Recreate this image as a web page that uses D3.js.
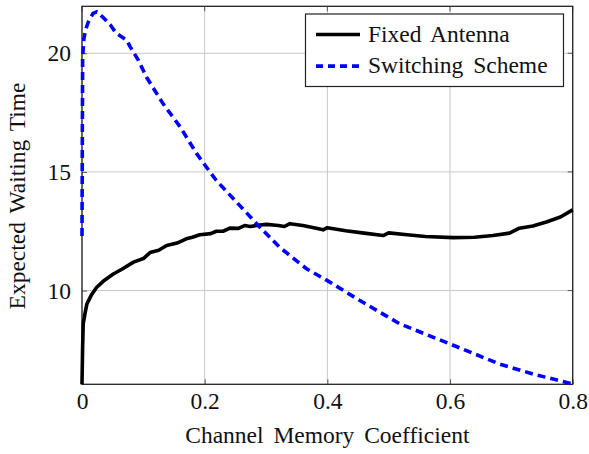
<!DOCTYPE html>
<html>
<head>
<meta charset="utf-8">
<script src="https://cdn.jsdelivr.net/npm/d3@7"></script>
<style>
  body { margin: 0; background: #fff; }
  svg text { font-family: 'Liberation Serif', 'Times New Roman', Times, serif !important; }
</style>
</head>
<body>
<div id="chart"></div>
<script>
const width = 589;
const height = 454;
const margin = { top: 6.3, right: 16.3, bottom: 69.7, left: 82 };
const serif = "'Liberation Serif', 'Times New Roman', Times, serif";
const fontSize = "23.5px";

// channel memory coefficient vs expected waiting time
const fixedX = [0, 0.001, 0.002, 0.005, 0.008, 0.015, 0.024, 0.035, 0.051, 0.065, 0.084, 0.1, 0.111, 0.125, 0.138, 0.155, 0.17, 0.18, 0.192, 0.21, 0.219, 0.23, 0.241, 0.255, 0.265, 0.274, 0.29, 0.301, 0.32, 0.33, 0.339, 0.36, 0.38, 0.393, 0.4, 0.43, 0.46, 0.491, 0.5, 0.53, 0.56, 0.605, 0.64, 0.67, 0.697, 0.713, 0.735, 0.757, 0.78, 0.8];
const fixedY = [6.05, 7.6, 8.6, 9.05, 9.44, 9.8, 10.14, 10.4, 10.7, 10.9, 11.2, 11.35, 11.6, 11.7, 11.9, 12.0, 12.18, 12.25, 12.35, 12.4, 12.5, 12.5, 12.63, 12.62, 12.74, 12.7, 12.76, 12.79, 12.74, 12.7, 12.82, 12.74, 12.64, 12.56, 12.65, 12.52, 12.42, 12.32, 12.43, 12.35, 12.28, 12.23, 12.25, 12.32, 12.42, 12.63, 12.72, 12.89, 13.1, 13.4];

const switchX = [0, 0.001, 0.003, 0.006, 0.01, 0.018, 0.024, 0.035, 0.046, 0.056, 0.073, 0.078, 0.092, 0.105, 0.132, 0.16, 0.187, 0.2, 0.219, 0.257, 0.29, 0.322, 0.366, 0.4, 0.453, 0.518, 0.6, 0.681, 0.736, 0.8];
const switchY = [12.3, 19.8, 20.6, 21.0, 21.3, 21.68, 21.75, 21.5, 21.2, 20.84, 20.55, 20.3, 19.7, 19.0, 17.88, 16.9, 15.77, 15.3, 14.64, 13.59, 12.67, 11.83, 10.92, 10.42, 9.58, 8.6, 7.75, 6.9, 6.48, 6.06];

const xTicks = [0, 0.2, 0.4, 0.6, 0.8];
const yTicks = [10, 15, 20];
const seriesNames = ["Fixed Antenna", "Switching Scheme"];

const svg = d3.select("#chart")
  .append("svg")
  .attr("width", width)
  .attr("height", height);

const x = d3.scaleLinear()
  .domain([0, 0.8])
  .range([margin.left, width - margin.right]);

const y = d3.scaleLinear()
  .domain([6.05, 21.98])
  .range([height - margin.bottom, margin.top]);

// grid
svg.append("g")
  .attr("stroke", "#c8c8c8")
  .attr("stroke-width", 1)
  .selectAll("line")
  .data(xTicks)
  .join("line")
    .attr("x1", d => x(d)).attr("x2", d => x(d))
    .attr("y1", margin.top).attr("y2", height - margin.bottom);

svg.append("g")
  .attr("stroke", "#c8c8c8")
  .attr("stroke-width", 1)
  .selectAll("line")
  .data(yTicks)
  .join("line")
    .attr("x1", margin.left).attr("x2", width - margin.right)
    .attr("y1", d => y(d)).attr("y2", d => y(d));

function xAxis(g) {
  g.attr("transform", `translate(0,${height - margin.bottom})`)
    .call(d3.axisBottom(x).tickValues(xTicks).tickSize(-5).tickPadding(8)
      .tickFormat(d => d === 0 ? "0" : d3.format(".1f")(d)))
    .attr("font-size", fontSize)
    .attr("font-family", serif);
  g.select(".domain").remove();
  g.selectAll(".tick line").attr("stroke", "#555");
  g.selectAll("text").attr("fill", "#111");
}

function yAxis(g) {
  g.attr("transform", `translate(${margin.left},0)`)
    .call(d3.axisLeft(y).tickValues(yTicks).tickSize(-5).tickPadding(11))
    .attr("font-size", fontSize)
    .attr("font-family", serif);
  g.select(".domain").remove();
  g.selectAll(".tick line").attr("stroke", "#555");
  g.selectAll("text").attr("fill", "#111");
}

svg.append("g").call(xAxis);
svg.append("g").call(yAxis);

// ticks on opposite sides
svg.append("g")
  .attr("stroke", "#555")
  .selectAll("line")
  .data(yTicks)
  .join("line")
    .attr("x1", width - margin.right - 5).attr("x2", width - margin.right)
    .attr("y1", d => y(d)).attr("y2", d => y(d));
svg.append("g")
  .attr("stroke", "#555")
  .selectAll("line")
  .data(xTicks)
  .join("line")
    .attr("x1", d => x(d)).attr("x2", d => x(d))
    .attr("y1", margin.top).attr("y2", margin.top + 5);

const line = d3.line()
  .x(d => x(d[0]))
  .y(d => y(d[1]));

const fixedData = fixedX.map((v, i) => [v, fixedY[i]]);
const switchData = switchX.map((v, i) => [v, switchY[i]]);

// frame (left edge grey like the reference)
svg.append("rect")
  .attr("x", margin.left)
  .attr("y", margin.top)
  .attr("width", width - margin.left - margin.right)
  .attr("height", height - margin.top - margin.bottom)
  .attr("fill", "none")
  .attr("stroke", "#222")
  .attr("stroke-width", 1.3);

const plot = svg.append("g");

plot.append("path")
  .datum(fixedData)
  .attr("fill", "none")
  .attr("stroke", "#000")
  .attr("stroke-width", 3.6)
  .attr("stroke-linejoin", "round")
  .attr("d", line);

plot.append("path")
  .datum(switchData)
  .attr("fill", "none")
  .attr("stroke", "#0000ff")
  .attr("stroke-width", 3.6)
  .attr("stroke-dasharray", "8,5")
  .attr("d", line);

// axis labels
svg.append("text")
  .attr("x", (margin.left + width - margin.right) / 2)
  .attr("y", 443.3)
  .attr("text-anchor", "middle")
  .attr("font-size", fontSize)
  .attr("word-spacing", "4px")
  .attr("fill", "#111")
  .text("Channel Memory Coefficient");

svg.append("text")
  .attr("transform", `translate(25,196) rotate(-90)`)
  .attr("text-anchor", "middle")
  .attr("font-size", fontSize)
  .attr("word-spacing", "3px")
  .attr("fill", "#111")
  .text("Expected Waiting Time");

// legend
const legend = svg.append("g");
legend.append("rect")
  .attr("x", 305.5).attr("y", 14)
  .attr("width", 258).attr("height", 72.5)
  .attr("fill", "#fff")
  .attr("stroke", "#222")
  .attr("stroke-width", 1.2);

const legendItems = legend.selectAll("g")
  .data(seriesNames)
  .join("g")
    .attr("transform", (d, i) => `translate(0,${34.5 + i * 31.6})`);

legendItems.append("line")
  .attr("x1", 316).attr("x2", 360)
  .attr("y1", 0).attr("y2", 0)
  .attr("stroke", (d, i) => i === 0 ? "#000" : "#0000ff")
  .attr("stroke-width", 3.6)
  .attr("stroke-dasharray", (d, i) => i === 0 ? null : "7,5");

legendItems.append("text")
  .attr("x", 368)
  .attr("y", 7.2)
  .attr("font-size", fontSize)
  .attr("word-spacing", "4px")
  .attr("fill", "#111")
  .text(d => d);
</script>
</body>
</html>
